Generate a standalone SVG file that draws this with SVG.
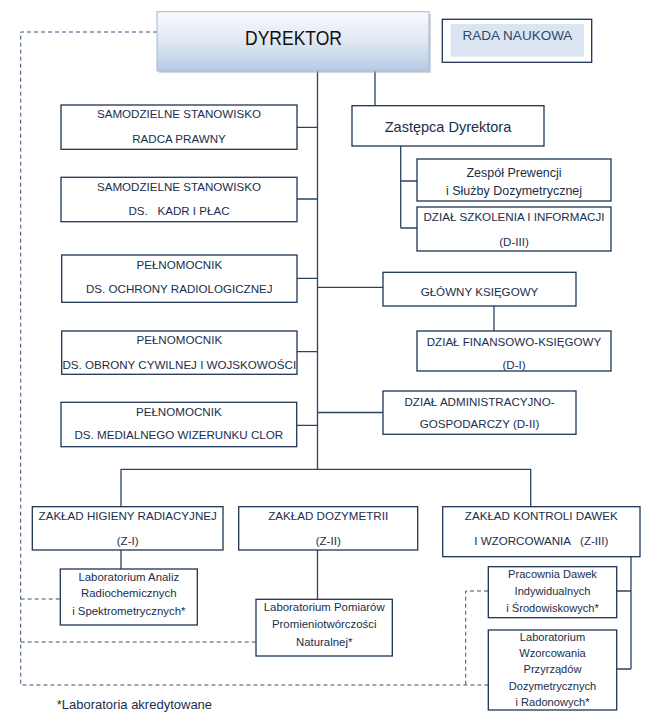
<svg xmlns="http://www.w3.org/2000/svg" width="651" height="723" viewBox="0 0 651 723">
<defs>
<linearGradient id="gDyr" x1="0" y1="0" x2="0" y2="1">
<stop offset="0" stop-color="#f7f9fc"/>
<stop offset="0.45" stop-color="#e3eaf4"/>
<stop offset="1" stop-color="#b6cae3"/>
</linearGradient>
<style>
.box{fill:#ffffff;stroke:#1f3554;stroke-width:1.3}
.ln{fill:none;stroke:#2a4466;stroke-width:1.3}
.dash{fill:none;stroke:#3a5275;stroke-width:1;stroke-dasharray:4 3}
text{font-family:"Liberation Sans",Arial,sans-serif;fill:#1a2e4a;text-anchor:middle}
.c{font-size:11.6px}
.m{font-size:11.4px}
.s{font-size:11.1px}
</style>
</defs>
<rect width="651" height="723" fill="#ffffff"/>

<g id="connectors">
<path class="ln" d="M317.5 71 V469.3 M375 71 V106"/>
<path class="ln" d="M297 127.3 H317.5 M297 199 H317.5 M297 278.3 H317.5 M297 351.7 H317.5 M297 425.3 H317.5"/>
<path class="ln" d="M317.5 287.3 H383 M317.5 412.5 H383"/>
<path class="ln" d="M400.7 146 V228 M400.7 181 H417 M400.7 228 H417"/>
<path class="ln" d="M494 306 V331"/>
<path class="ln" d="M121 506.7 V469.3 H530.7 V506.7"/>
<path class="ln" d="M121 550 V569 M317.5 550 V599"/>
<path class="ln" d="M631 556.7 V669 M616.7 591 H631 M616.7 669 H631"/>
<path class="dash" d="M157 32 H20.7 V685 H488"/>
<path class="dash" d="M20.7 599 H60 M20.7 642 H256"/>
<path class="dash" d="M488 591 H465.7 V685"/>
</g>

<g id="dyrektor">
<rect x="159" y="14" width="272" height="59" fill="#9aa7b8" opacity="0.45"/>
<rect x="157" y="11.7" width="272" height="59.3" fill="url(#gDyr)" stroke="#a3b6cf" stroke-width="1"/>
<text x="293.5" y="44.5" style="font-size:21px;fill:#111111" textLength="97" lengthAdjust="spacingAndGlyphs">DYREKTOR</text>
</g>

<g id="rada-naukowa">
<rect x="442.3" y="19.3" width="149.4" height="43" fill="#ffffff" stroke="#1f3554" stroke-width="1.3"/>
<rect x="450.7" y="24" width="133.3" height="32.7" fill="#dbe5f1"/>
<text x="517.5" y="40" style="font-size:13.5px;fill:#2b4a6f">RADA NAUKOWA</text>
</g>

<g id="radca-prawny">
<rect class="box" x="61" y="105" width="236" height="44.3"/>
<text class="c" x="179" y="118.4">SAMODZIELNE STANOWISKO</text>
<text class="c" x="179" y="143">RADCA PRAWNY</text>
</g>

<g id="kadr-plac">
<rect class="box" x="61" y="177.3" width="236" height="44.4"/>
<text class="c" x="179" y="190.8">SAMODZIELNE STANOWISKO</text>
<text class="c" x="179" y="214.8" xml:space="preserve">DS.   KADR I PŁAC</text>
</g>

<g id="ochrona-radiologiczna">
<rect class="box" x="61.7" y="255" width="235.3" height="47.3"/>
<text class="c" x="179.3" y="269">PEŁNOMOCNIK</text>
<text class="c" x="179.3" y="293">DS. OCHRONY RADIOLOGICZNEJ</text>
</g>

<g id="obrona-cywilna">
<rect class="box" x="61.7" y="331" width="235.3" height="43.3"/>
<text class="c" x="179.3" y="344">PEŁNOMOCNIK</text>
<text class="c" x="179.3" y="369">DS. OBRONY CYWILNEJ I WOJSKOWOŚCI</text>
</g>

<g id="wizerunek">
<rect class="box" x="61" y="402.3" width="235.7" height="44.4"/>
<text class="c" x="178.8" y="415.8">PEŁNOMOCNIK</text>
<text class="c" x="178.8" y="439">DS. MEDIALNEGO WIZERUNKU CLOR</text>
</g>

<g id="zastepca">
<rect class="box" x="352" y="105.7" width="192" height="40.3"/>
<text x="448" y="132" style="font-size:14.5px">Zastępca Dyrektora</text>
</g>

<g id="zespol-prewencji">
<rect class="box" x="417" y="159" width="194" height="42"/>
<text x="514" y="177" style="font-size:12.5px">Zespół Prewencji</text>
<text x="514" y="195" style="font-size:12.5px">i Służby Dozymetrycznej</text>
</g>

<g id="dzial-szkolenia">
<rect class="box" x="417" y="207" width="194" height="44"/>
<text class="c" x="514" y="220.8">DZIAŁ SZKOLENIA I INFORMACJI</text>
<text class="c" x="514" y="245.8">(D-III)</text>
</g>

<g id="glowny-ksiegowy">
<rect class="box" x="383" y="272.3" width="193" height="33.7"/>
<text class="c" x="479.5" y="295.8">GŁÓWNY KSIĘGOWY</text>
</g>

<g id="dzial-finansowy">
<rect class="box" x="417" y="331" width="194" height="40"/>
<text class="c" x="514" y="345.8">DZIAŁ FINANSOWO-KSIĘGOWY</text>
<text class="c" x="514" y="369">(D-I)</text>
</g>

<g id="dzial-administracyjny">
<rect class="box" x="383" y="391" width="193" height="43.3"/>
<text class="c" x="479.5" y="405.8">DZIAŁ ADMINISTRACYJNO-</text>
<text class="c" x="479.5" y="428">GOSPODARCZY (D-II)</text>
</g>

<g id="zaklad-higieny">
<rect class="box" x="32.3" y="506.7" width="190.7" height="43.3"/>
<text class="c" x="127.7" y="519.8">ZAKŁAD HIGIENY RADIACYJNEJ</text>
<text class="c" x="127.7" y="545">(Z-I)</text>
</g>

<g id="zaklad-dozymetrii">
<rect class="box" x="238.7" y="506.7" width="179" height="43.3"/>
<text class="c" x="328.2" y="519.8">ZAKŁAD DOZYMETRII</text>
<text class="c" x="328.2" y="545">(Z-II)</text>
</g>

<g id="zaklad-kontroli">
<rect class="box" x="442.7" y="506.7" width="197.3" height="50"/>
<text class="c" x="541.3" y="519.8">ZAKŁAD KONTROLI DAWEK</text>
<text class="c" x="541.3" y="545" xml:space="preserve">I WZORCOWANIA   (Z-III)</text>
</g>

<g id="lab-analiz">
<rect class="box" x="60.3" y="569" width="137" height="56"/>
<text class="m" x="128.8" y="581">Laboratorium Analiz</text>
<text class="m" x="128.8" y="597">Radiochemicznych</text>
<text class="m" x="128.8" y="614.5">i Spektrometrycznych*</text>
</g>

<g id="lab-pomiarow">
<rect class="box" x="256" y="599.3" width="136.3" height="56.7"/>
<text class="m" x="324.2" y="610.5">Laboratorium Pomiarów</text>
<text class="m" x="324.2" y="628">Promieniotwórczości</text>
<text class="m" x="324.2" y="645.5">Naturalnej*</text>
</g>

<g id="pracownia-dawek">
<rect class="box" x="488.3" y="566.7" width="128.4" height="51"/>
<text class="s" x="552.5" y="578">Pracownia Dawek</text>
<text class="s" x="552.5" y="594.5">Indywidualnych</text>
<text class="s" x="552.5" y="611.5">i Środowiskowych*</text>
</g>

<g id="lab-wzorcowania">
<rect class="box" x="488.3" y="630" width="128.4" height="80"/>
<text class="s" x="552.5" y="641">Laboratorium</text>
<text class="s" x="552.5" y="657">Wzorcowania</text>
<text class="s" x="552.5" y="673">Przyrządów</text>
<text class="s" x="552.5" y="690">Dozymetrycznych</text>
<text class="s" x="552.5" y="706">i Radonowych*</text>
</g>

<g id="legend">
<text x="56.7" y="708.5" style="font-size:13px;text-anchor:start">*Laboratoria akredytowane</text>
</g>
</svg>
